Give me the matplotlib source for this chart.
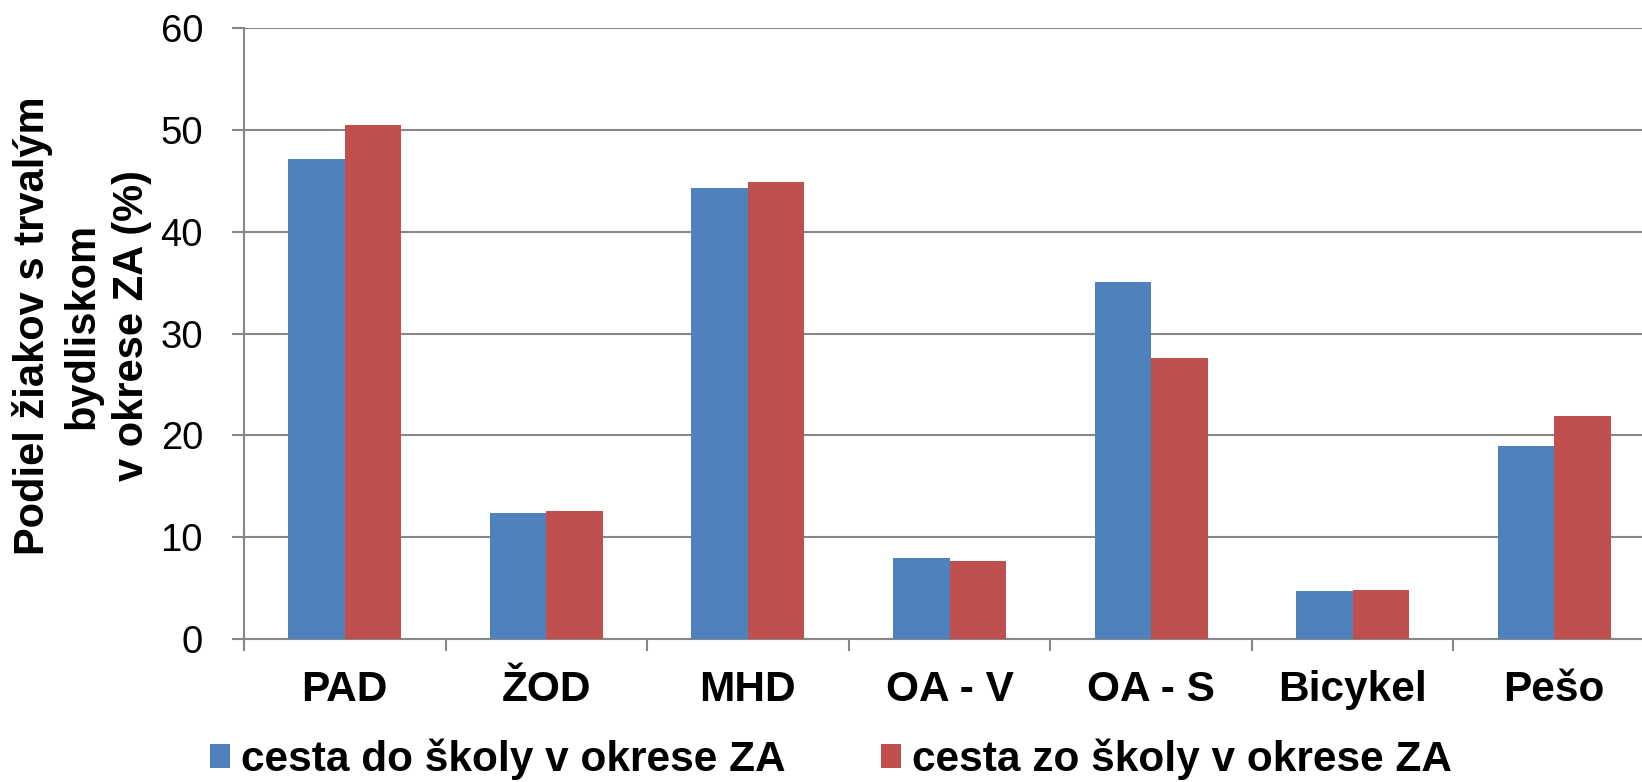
import matplotlib
matplotlib.use("Agg")
import matplotlib.pyplot as plt
import numpy as np

# data
categories = ["PAD", "ŽOD", "MHD", "OA - V", "OA - S", "Bicykel", "Pešo"]
cesta_do = [47.1, 12.4, 44.3, 8.0, 35.1, 4.7, 19.0]
cesta_zo = [50.5, 12.6, 44.9, 7.7, 27.6, 4.85, 21.9]
series_names = ["cesta do školy v okrese ZA", "cesta zo školy v okrese ZA"]
yticks = [0, 10, 20, 30, 40, 50, 60]

plt.rcParams['font.family'] = ['Liberation Sans', 'DejaVu Sans']

grey = "#878787"
blue = "#4F81BD"
red = "#C0504D"

fig = plt.figure(figsize=(16.42, 7.82), dpi=100)
ax = fig.add_axes([244 / 1642, 1 - 639 / 782, 1411 / 1642, (639 - 28) / 782])

x = np.arange(len(categories))
w = 0.28
b1 = ax.bar(x - w / 2, cesta_do, width=w, color=blue, zorder=3)
b2 = ax.bar(x + w / 2, cesta_zo, width=w, color=red, zorder=3)

ax.set_xlim(-0.5, len(categories) - 0.5)
ax.set_ylim(0, 60)
ax.set_yticks(yticks)
ax.yaxis.grid(True, color=grey, linewidth=1.5, zorder=0)
ax.set_axisbelow(True)

for s in ["top", "right"]:
    ax.spines[s].set_visible(False)
for s in ["left", "bottom"]:
    ax.spines[s].set_color(grey)
    ax.spines[s].set_linewidth(1.5)

ax.tick_params(axis="y", direction="out", length=8.5, width=1.5, color=grey,
               labelsize=27.5, pad=21)
ax.set_xticks(x)
ax.set_xticklabels(categories, fontsize=30.5, fontweight="bold")
ax.set_xticks(np.arange(-0.5, len(categories), 1.0), minor=True)
ax.tick_params(axis="x", which="major", length=0, pad=22)
ax.tick_params(axis="x", which="minor", direction="out", length=8.5, width=1.5, color=grey)

fig.text(82 / 1642, 1 - 326 / 782, "Podiel žiakov s trvalým\nbydliskom\nv okrese ZA (%)",
         rotation=90, ha="center", va="center", multialignment="center",
         fontsize=30, fontweight="bold", linespacing=1.3)

leg = fig.legend([b1, b2], series_names, loc="center left",
                 bbox_to_anchor=(210 / 1642, 1 - 759 / 782), ncol=2, frameon=False,
                 prop={"size": 30.5, "weight": "bold"}, handlelength=0.48, handleheight=0.5,
                 handletextpad=0.25, columnspacing=2.25, borderaxespad=0, borderpad=0)

fig.savefig("out.png", dpi=100)
